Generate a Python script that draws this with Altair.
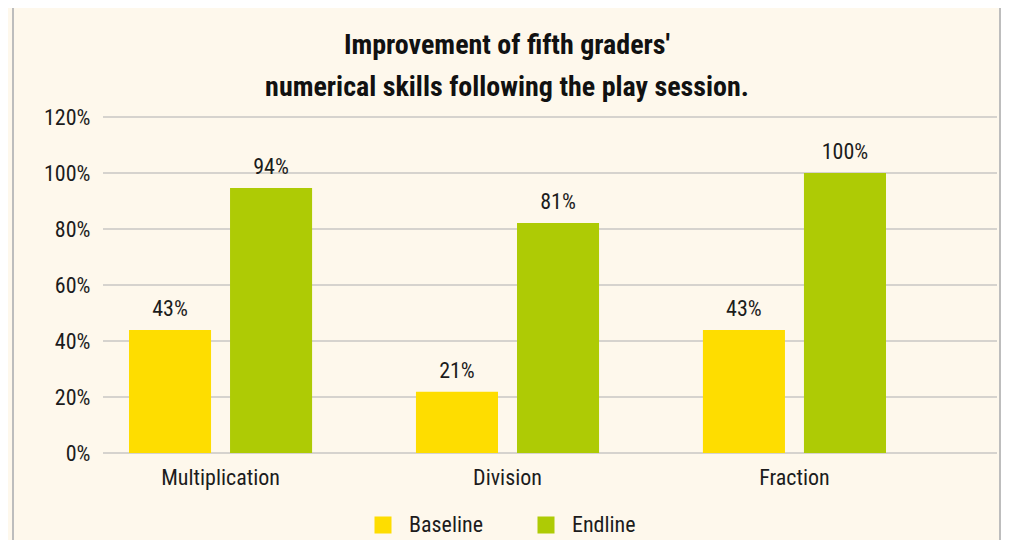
import altair as alt
import pandas as pd

categories = ["Multiplication", "Division", "Fraction"]
series = ["Baseline", "Endline"]
baseline_values = [43.9, 21.9, 43.9]
endline_values = [94.6, 82.1, 100.0]
baseline_labels = ["43%", "21%", "43%"]
endline_labels = ["94%", "81%", "100%"]
y_ticks = [0, 20, 40, 60, 80, 100, 120]
colors = ["#FEDD00", "#AECB05"]
title_lines = ["Improvement of fifth graders'", "numerical skills following the play session."]

rows = []
for i, c in enumerate(categories):
    rows.append({"category": c, "series": "Baseline", "value": baseline_values[i], "label": baseline_labels[i]})
    rows.append({"category": c, "series": "Endline", "value": endline_values[i], "label": endline_labels[i]})
df = pd.DataFrame(rows)
ticks_df = pd.DataFrame({"tick": y_ticks})
one = pd.DataFrame({"k": [0]})

FONT = "'Liberation Sans Narrow', 'Roboto Condensed', 'DejaVu Sans Condensed', 'Noto Sans', sans-serif"
TXT = "#1c1c1c"
W, H = 894, 336

x_axis = alt.Axis(title=None, labelAngle=0, domain=False, ticks=False,
                  labelPadding=14, labelFontSize=22, labelFont=FONT, labelColor=TXT, grid=False)
x_scale = alt.Scale(range=[26, 783], paddingInner=0.362, paddingOuter=0)
xo_scale = alt.Scale(paddingInner=0.188, paddingOuter=0)
y_scale = alt.Scale(domain=[0, 120], nice=False)
y_axis = alt.Axis(title=None, values=y_ticks, labelExpr="datum.value + '%'",
                  domain=False, ticks=False, labelPadding=13, labelFontSize=22,
                  labelFont=FONT, labelColor=TXT, grid=False)

grid = alt.Chart(ticks_df).mark_rule(color="#C9C7C4", strokeWidth=1.5).encode(
    y=alt.Y("tick:Q", scale=y_scale, axis=y_axis),
    x=alt.value(0), x2=alt.value(W),
)

bars = alt.Chart(df).mark_bar().encode(
    x=alt.X("category:N", sort=categories, scale=x_scale, axis=x_axis),
    xOffset=alt.XOffset("series:N", sort=series, scale=xo_scale),
    y=alt.Y("value:Q", scale=y_scale, axis=y_axis),
    color=alt.Color("series:N", sort=series,
                    scale=alt.Scale(domain=series, range=colors),
                    legend=alt.Legend(title=None, orient="none", legendX=269, legendY=397,
                                      direction="horizontal", symbolType="square",
                                      symbolSize=289, symbolStrokeWidth=0, labelFontSize=22,
                                      labelFont=FONT, labelColor=TXT, labelOffset=15,
                                      columnPadding=52))
)

labels = alt.Chart(df).mark_text(baseline="bottom", dy=-9, fontSize=22, font=FONT, color=TXT).encode(
    x=alt.X("category:N", sort=categories, scale=x_scale, axis=x_axis),
    xOffset=alt.XOffset("series:N", sort=series, scale=xo_scale),
    y=alt.Y("value:Q", scale=y_scale, axis=y_axis),
    text="label:N",
)

title = alt.Chart(one).mark_text(
    text=title_lines, font=FONT, fontSize=28, fontWeight="bold", color="#111111",
    align="center", baseline="alphabetic", lineHeight=42,
).encode(x=alt.value(404), y=alt.value(-63))

left_border = alt.Chart(one).mark_rule(color="#BDBDBD", strokeWidth=2).encode(
    x=alt.value(-90), y=alt.value(-109), y2=alt.value(H + 90))
right_border = alt.Chart(one).mark_rule(color="#BDBDBD", strokeWidth=2).encode(
    x=alt.value(W + 3), y=alt.value(-109), y2=alt.value(H + 90))

chart = alt.layer(grid, bars, labels, title, left_border, right_border).properties(
    width=W, height=H,
    padding={"left": 95, "top": 109, "right": 4, "bottom": 87},
    autosize=alt.AutoSizeParams(type="none"),
    background="#FEF8EC",
).configure_view(stroke=None)

chart.save("out.html", embed_options={"renderer": "svg", "actions": False})
